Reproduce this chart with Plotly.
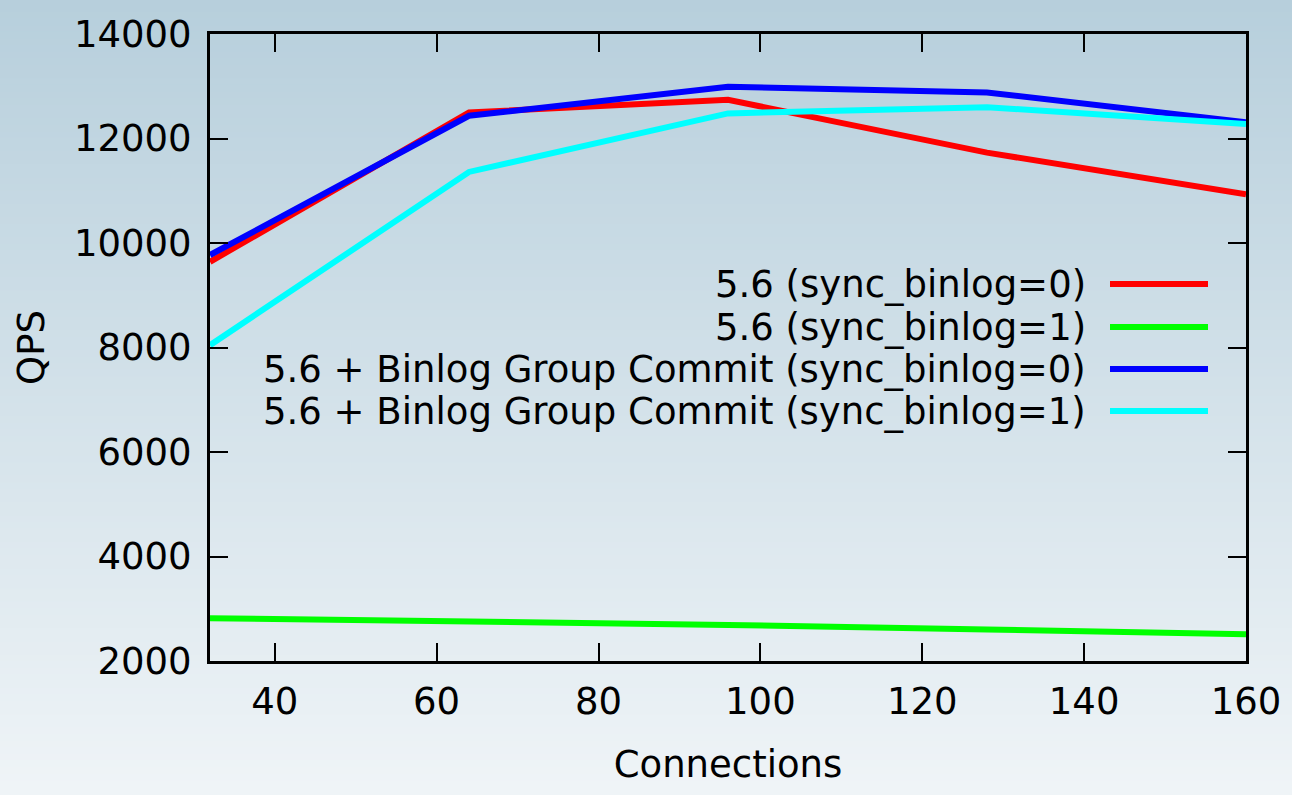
import plotly.graph_objects as go

connections = [32, 64, 96, 128, 160]
series_names = [
    "5.6 (sync_binlog=0)",
    "5.6 (sync_binlog=1)",
    "5.6 + Binlog Group Commit (sync_binlog=0)",
    "5.6 + Binlog Group Commit (sync_binlog=1)",
]
qps_56_sb0 = [9640, 12500, 12740, 11730, 10930]
qps_56_sb1 = [2820, 2760, 2690, 2605, 2510]
qps_bgc_sb0 = [9770, 12435, 12990, 12880, 12310]
qps_bgc_sb1 = [8045, 11360, 12480, 12600, 12275]
series_values = [qps_56_sb0, qps_56_sb1, qps_bgc_sb0, qps_bgc_sb1]
colors = ["#ff0000", "#00ff00", "#0000ff", "#00ffff"]

x_ticks = [40, 60, 80, 100, 120, 140, 160]
y_ticks = [2000, 4000, 6000, 8000, 10000, 12000, 14000]
y_tick_labels = ["2000", "4000", "6000", "8000", "10000", "12000", "14000"]

FONT = "DejaVu Sans"
FS = 37

fig = go.Figure()
for name, vals, col in zip(series_names, series_values, colors):
    fig.add_trace(go.Scatter(x=connections, y=vals, mode="lines", name=name,
                             line=dict(color=col, width=6), showlegend=False))

# background gradient
shapes = []
top = (183, 207, 220)
bot = (239, 244, 247)
N = 120
for i in range(N):
    t = i / (N - 1)
    c = tuple(int(round(top[k] + (bot[k] - top[k]) * t)) for k in range(3))
    y1 = 1 - i / N
    y0 = 1 - (i + 1) / N
    shapes.append(dict(type="rect", xref="paper", yref="paper", layer="below",
                       x0=-0.3, x1=1.2, y0=(y0 * 795 - 134) / 627 - 0.002,
                       y1=(y1 * 795 - 134) / 627 + 0.002,
                       fillcolor="rgb(%d,%d,%d)" % c, line=dict(width=0)))

# legend (text right-aligned, sample on the right, like the original)
W, H = 1036, 627
leg_rows = [284, 327, 369, 411]
annotations = []
for name, col, ypx in zip(series_names, colors, leg_rows):
    yp = (661 - ypx) / H
    annotations.append(dict(text=name, xref="paper", yref="paper",
                            x=(1088 - 210) / W, y=yp, xanchor="right", yanchor="middle",
                            showarrow=False, font=dict(family=FONT, size=FS, color="black")))
    shapes.append(dict(type="line", xref="paper", yref="paper",
                       x0=(1110 - 210) / W, x1=(1208 - 210) / W, y0=yp, y1=yp,
                       line=dict(color=col, width=6)))

fig.update_layout(
    width=1292, height=795,
    margin=dict(l=210, r=46, t=34, b=134),
    paper_bgcolor="#d0dfe7",
    plot_bgcolor="rgba(0,0,0,0)",
    font=dict(family=FONT, size=FS, color="black"),
    shapes=shapes,
    annotations=annotations,
    showlegend=False,
)
fig.update_xaxes(range=[32, 160], tickvals=x_ticks, ticks="inside", ticklen=18, tickwidth=2,
                 tickcolor="black", showline=True, linecolor="black", linewidth=3,
                 mirror="ticks", showgrid=False, zeroline=False, ticklabelstandoff=6,
                 tickfont=dict(family=FONT, size=FS),
                 title=dict(text="Connections", font=dict(family=FONT, size=FS), standoff=29))
fig.update_yaxes(range=[2000, 14000], tickvals=y_ticks, ticktext=y_tick_labels,
                 ticks="inside", ticklen=18, tickwidth=2,
                 tickcolor="black", showline=True, linecolor="black", linewidth=3,
                 mirror="ticks", showgrid=False, zeroline=False, ticklabelstandoff=8,
                 tickfont=dict(family=FONT, size=FS),
                 title=dict(text="QPS", font=dict(family=FONT, size=FS), standoff=18))

fig.write_html("out.html", config={"displayModeBar": False},
               post_script="document.body.style.margin='0';document.body.style.padding='0';")
